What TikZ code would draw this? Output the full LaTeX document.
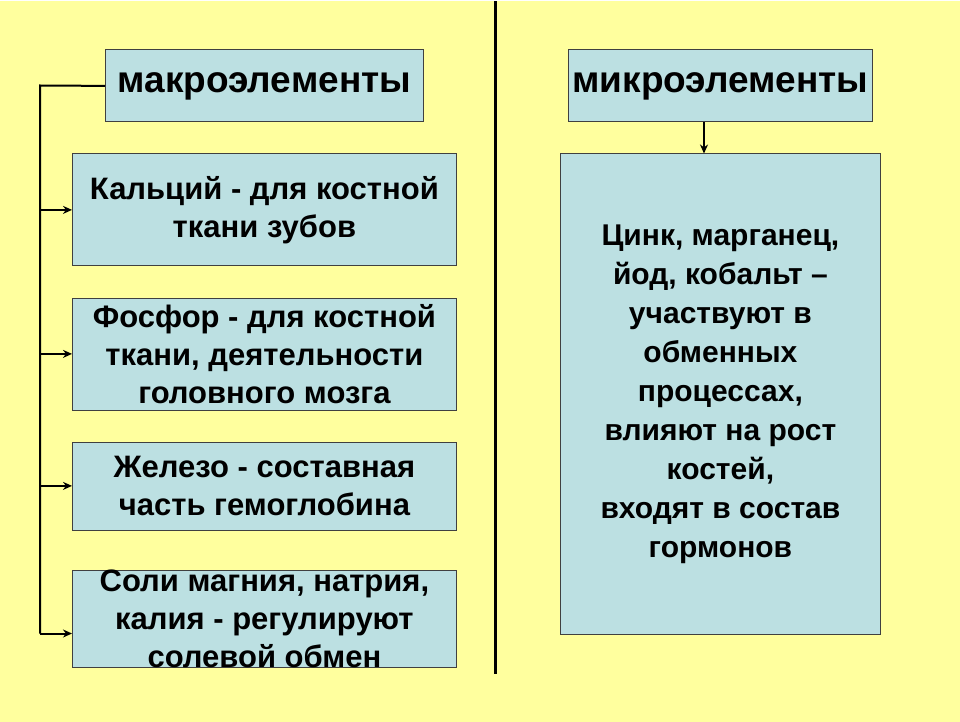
\documentclass[tikz,border=0pt]{standalone}
\usepackage{fontspec}
\setmainfont{Liberation Sans}
\usetikzlibrary{arrows.meta}
\definecolor{bg}{HTML}{FFFF9E}
\definecolor{bx}{HTML}{BCE0E2}
\tikzset{box/.style={draw=black!75,line width=0.8pt,fill=bx,font=\bfseries\fontsize{31}{38}\selectfont,align=center,anchor=north west,inner sep=0pt},
head/.style={box,font=\bfseries\fontsize{37}{42}\selectfont},
conn/.style={line width=2pt,-{Stealth[length=9pt,width=8pt]}}}
\begin{document}
\begin{tikzpicture}[x=1pt,y=-1pt]
\fill[bg] (0,0) rectangle (960,720);
\node[head,minimum width=318pt,minimum height=72pt] (macro) at (105,48) {макроэлементы};
\node[head,minimum width=304pt,minimum height=72pt] (micro) at (568,48) {микроэлементы};
\node[box,minimum width=384pt,minimum height=112pt] (ca) at (72,152) {Кальций - для костной\\ткани зубов};
\node[box,minimum width=384pt,minimum height=112pt] (p) at (72,296) {Фосфор - для костной\\ткани, деятельности\\головного мозга};
\node[box,minimum width=384pt,minimum height=88pt] (fe) at (72,440) {Железо - составная\\часть гемоглобина};
\node[box,minimum width=384pt,minimum height=96pt] (salt) at (72,568) {Соли магния, натрия,\\калия - регулируют\\солевой обмен};
\node[box,minimum width=320pt,minimum height=480pt,font=\bfseries\fontsize{30}{39}\selectfont] (right) at (560,152) {Цинк, марганец,\\йод, кобальт –\\участвуют в\\обменных\\процессах,\\влияют на рост\\костей,\\входят в состав\\гормонов};
\draw[line width=3pt] (495,0) -- (495,672);
\coordinate (c0) at (40,84);
\coordinate (c4) at (40,632);
\draw[line width=2pt] (macro.west) -- (c0) -- (c4);
\draw[conn] (ca.west -| c0) -- (ca.west);
\draw[conn] (p.west -| c0) -- (p.west);
\draw[conn] (fe.west -| c0) -- (fe.west);
\draw[conn] (c4) -- (c4 -| salt.west);
\draw[conn] (micro.south -| 704,0) -- (right.north -| 704,0);
\end{tikzpicture}
\end{document}
